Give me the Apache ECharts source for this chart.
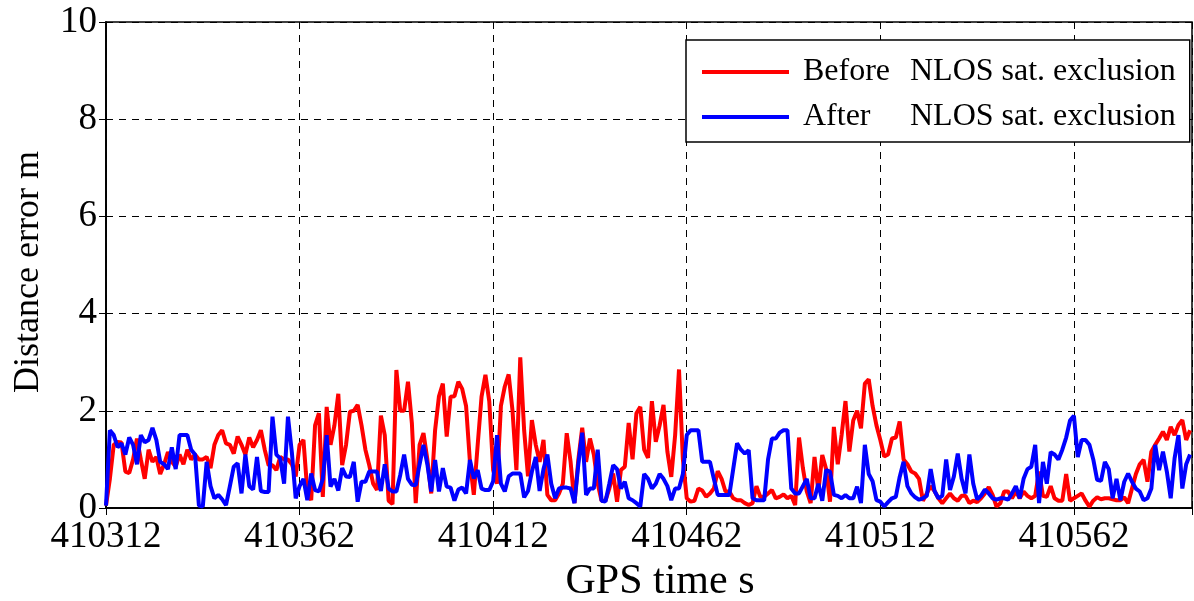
<!DOCTYPE html>
<html>
<head>
<meta charset="utf-8">
<script src="https://cdn.jsdelivr.net/npm/echarts@6/dist/echarts.min.js"></script>
<style>
  html, body { margin: 0; padding: 0; background: #fff; }
  #chart { width: 1194px; height: 601px; }
</style>
</head>
<body>
<div id="chart"></div>
<script>
// GPS time of the first epoch; epochs are one second apart
const gpsStart = 410312;
const xTickStep = 50;
const yTicks = [0, 2, 4, 6, 8, 10];
const seriesNames = ['Before', 'After'];
const legendSuffix = 'NLOS sat. exclusion';

// Distance error (m), before NLOS satellite exclusion
const beforeExclusion = [
  0.05, 0.6, 1.3, 1.36, 1.35, 0.75, 0.72, 1.0, 1.43, 1.0, 0.6, 1.2, 0.95, 1.05, 0.7, 0.9, 1.15, 0.95, 0.85, 1.1, 0.9, 1.2, 1.0, 1.1, 1.0,
  1.0, 1.05, 0.82, 1.3, 1.5, 1.6, 1.33, 1.3, 1.12, 1.47, 1.3, 1.1, 1.45, 1.25, 1.4, 1.6, 1.2, 0.88, 0.88, 0.78, 1.05, 1.0, 1.0, 0.9, 0.65, 1.3,
  1.4, 0.34, 0.16, 1.7, 1.95, 0.23, 2.08, 1.3, 1.7, 2.35, 0.88, 1.3, 1.98, 2.0, 2.12, 1.7, 1.2, 0.88, 0.5, 0.37, 1.9, 1.5, 0.15, 0.08, 2.84,
  2.0, 2.0, 2.6, 1.75, 0.1, 1.3, 1.54, 1.0, 0.3, 1.6, 2.3, 2.56, 1.47, 2.29, 2.3, 2.6, 2.45, 2.1, 0.95, 0.27, 1.3, 2.29, 2.74, 2.19, 0.78, 0.5,
  2.1, 2.5, 2.75, 2.0, 0.78, 3.1, 1.6, 0.65, 1.81, 1.3, 0.95, 1.4, 0.27, 0.16, 0.16, 0.3, 0.5, 1.54, 0.95, 0.1, 1.0, 1.65, 0.95, 1.43, 1.1, 0.5,
  0.15, 0.15, 0.4, 0.71, 0.13, 0.78, 0.85, 1.75, 1.0, 1.95, 2.08, 1.2, 1.03, 2.2, 1.36, 1.7, 2.12, 1.16, 0.64, 1.5, 2.85, 1.0, 0.2, 0.13, 0.15, 0.4,
  0.36, 0.23, 0.3, 0.4, 0.76, 0.6, 0.34, 0.34, 0.2, 0.16, 0.16, 0.1, 0.06, 0.1, 0.45, 0.23, 0.23, 0.3, 0.37, 0.2, 0.23, 0.28, 0.2, 0.25, 0.06, 1.45,
  0.82, 0.34, 0.1, 1.05, 0.34, 1.09, 0.8, 0.13, 1.67, 0.9, 1.5, 2.2, 1.16, 1.8, 2.0, 1.64, 2.56, 2.65, 2.1, 1.7, 1.4, 1.06, 1.1, 1.43, 1.45, 1.78,
  1.0, 0.9, 0.75, 0.71, 0.6, 0.15, 0.3, 0.45, 0.35, 0.2, 0.1, 0.2, 0.3, 0.2, 0.15, 0.25, 0.25, 0.1, 0.15, 0.12, 0.2, 0.3, 0.43, 0.27, 0.03,
  0.1, 0.34, 0.34, 0.2, 0.34, 0.2, 0.34, 0.25, 0.2, 0.25, 0.75, 0.25, 0.23, 0.45, 0.2, 0.15, 0.15, 0.7, 0.15, 0.2, 0.25, 0.3, 0.15, 0.03, 0.15,
  0.22, 0.18, 0.2, 0.2, 0.18, 0.16, 0.16, 0.22, 0.1, 0.4, 0.7, 0.9, 0.99, 0.54, 1.16, 1.3, 1.43, 1.57, 1.4, 1.67, 1.5, 1.71, 1.81, 1.4, 1.6
];

// Distance error (m), after NLOS satellite exclusion
const afterExclusion = [
  0.05, 1.6, 1.5, 1.25, 1.33, 1.1, 1.45, 1.3, 0.9, 1.5, 1.35, 1.4, 1.65, 1.4, 0.95, 0.9, 0.8, 1.25, 0.8, 1.5, 1.5, 1.5, 1.2, 1.1, 0.05,
  0.03, 0.95, 0.45, 0.2, 0.27, 0.18, 0.06, 0.45, 0.85, 0.92, 0.3, 1.1, 0.45, 0.38, 1.05, 0.35, 0.33, 0.33, 1.88, 1.1, 1.02, 0.5, 1.88, 1.15, 0.2, 0.45,
  0.6, 0.16, 0.71, 0.37, 0.34, 0.6, 1.5, 0.44, 0.6, 0.36, 0.82, 0.65, 0.64, 0.95, 0.13, 0.54, 0.54, 0.75, 0.75, 0.75, 0.35, 0.9, 0.4, 0.34, 0.34,
  0.68, 1.1, 0.6, 0.48, 0.47, 0.9, 1.3, 0.9, 0.34, 0.99, 0.34, 0.82, 0.44, 0.42, 0.15, 0.38, 0.42, 0.3, 0.99, 0.61, 0.78, 0.4, 0.37, 0.37, 0.55, 1.5,
  0.5, 0.34, 0.65, 0.71, 0.71, 0.71, 0.22, 0.35, 0.75, 1.05, 0.35, 0.8, 1.1, 0.5, 0.2, 0.4, 0.42, 0.42, 0.4, 0.1, 0.9, 1.55, 0.27, 0.4, 0.4, 1.2,
  0.15, 0.13, 0.5, 0.88, 0.8, 0.4, 0.54, 0.2, 0.16, 0.1, 0.03, 0.7, 0.6, 0.4, 0.5, 0.7, 0.6, 0.45, 0.16, 0.4, 0.4, 0.7, 1.5, 1.6, 1.6, 1.6,
  0.95, 0.95, 0.95, 0.6, 0.27, 0.27, 0.27, 0.27, 0.8, 1.33, 1.2, 1.12, 1.19, 0.2, 0.16, 0.16, 0.16, 1.0, 1.43, 1.43, 1.55, 1.6, 1.6, 0.4, 0.3, 0.3,
  0.45, 0.6, 0.2, 0.2, 0.5, 0.15, 0.78, 0.75, 0.27, 0.25, 0.2, 0.27, 0.2, 0.2, 0.44, 0.1, 1.3, 0.7, 0.55, 0.16, 0.13, 0.03, 0.12, 0.2, 0.23, 0.64,
  0.95, 0.45, 0.3, 0.22, 0.17, 0.2, 0.25, 0.8, 0.35, 0.2, 0.25, 1.0, 0.37, 0.65, 1.12, 0.6, 0.3, 1.1, 0.5, 0.18, 0.25, 0.38, 0.3, 0.2, 0.17,
  0.2, 0.2, 0.17, 0.3, 0.45, 0.2, 0.6, 0.8, 0.85, 1.3, 0.1, 0.95, 0.5, 1.15, 1.1, 1.0, 1.2, 1.45, 1.8, 1.9, 1.05, 1.4, 1.4, 1.3, 1.0,
  0.58, 0.56, 0.95, 0.8, 0.2, 0.6, 0.16, 0.54, 0.71, 0.54, 0.4, 0.34, 0.16, 0.2, 0.4, 1.3, 0.78, 1.16, 0.75, 0.2, 1.02, 1.5, 0.4, 0.9, 1.1
];

// elapsed seconds since gpsStart for each epoch
const elapsed = beforeExclusion.map((_, i) => i);
const xMax = 280.5;

const serif = "'Liberation Serif', 'Times New Roman', serif";
const tickFont = 37;

const beforeData = elapsed.map((s, i) => [s, beforeExclusion[i]]);
const afterData = elapsed.map((s, i) => [s, afterExclusion[i]]);

const dashed = { show: true, lineStyle: { color: '#000', width: 1, type: [7, 6] } };
const innerTick = { show: true, inside: true, length: 7, lineStyle: { color: '#000', width: 1 } };
const blackLine = { show: true, lineStyle: { color: '#000', width: 1.5 } };

const chart = echarts.init(document.getElementById('chart'), null, { renderer: 'canvas' });
chart.setOption({
  animation: false,
  backgroundColor: '#fff',
  textStyle: { fontFamily: serif, color: '#000' },
  grid: {
    left: 106, right: 2, top: 22, bottom: 93,
    show: true, borderColor: '#000', borderWidth: 1.5,
    containLabel: false, outerBoundsMode: 'none'
  },
  xAxis: [{
    type: 'value', min: 0, max: xMax, interval: xTickStep,
    axisLine: blackLine, axisTick: innerTick, splitLine: dashed,
    axisLabel: {
      fontSize: tickFont, fontFamily: serif, color: '#000', margin: 11,
      formatter: v => (v % xTickStep === 0 ? String(gpsStart + v) : '')
    },
    name: 'GPS time s', nameLocation: 'middle', nameGap: 50,
    nameTextStyle: { fontSize: 42, fontFamily: serif, color: '#000', padding: [0, 0, 0, 22] }
  }, {
    type: 'value', position: 'top', min: 0, max: xMax, interval: xTickStep,
    axisLine: blackLine, axisTick: innerTick, axisLabel: { show: false }, splitLine: { show: false }
  }],
  yAxis: [{
    type: 'value', min: yTicks[0], max: yTicks[yTicks.length - 1], interval: yTicks[1] - yTicks[0],
    axisLine: blackLine, axisTick: innerTick, splitLine: dashed,
    axisLabel: { fontSize: tickFont, fontFamily: serif, color: '#000', margin: 9 },
    name: 'Distance error m', nameLocation: 'middle', nameGap: 59, nameRotate: 90,
    nameTextStyle: { fontSize: 36, fontFamily: serif, color: '#000', padding: [0, 14, 0, 0] }
  }, {
    type: 'value', position: 'right', min: yTicks[0], max: yTicks[yTicks.length - 1], interval: yTicks[1] - yTicks[0],
    axisLine: blackLine, axisTick: innerTick, axisLabel: { show: false }, splitLine: { show: false }
  }],
  legend: {
    data: seriesNames,
    orient: 'vertical', left: 686, top: 40,
    padding: [14, 14, 7, 16], itemGap: 9,
    icon: 'rect', itemWidth: 87, itemHeight: 4,
    backgroundColor: '#fff', borderColor: '#000', borderWidth: 1.5, borderRadius: 0,
    formatter: name => `{a|${name}}{b|${legendSuffix}}`,
    textStyle: {
      fontFamily: serif, fontSize: 32, color: '#000', lineHeight: 36,
      rich: {
        a: { fontFamily: serif, fontSize: 32, color: '#000', width: 107, padding: [0, 0, 0, 9] },
        b: { fontFamily: serif, fontSize: 32, color: '#000' }
      }
    }
  },
  series: [{
    name: seriesNames[0], type: 'line', data: beforeData, showSymbol: false,
    lineStyle: { color: '#ff0000', width: 4 }, itemStyle: { color: '#ff0000' }
  }, {
    name: seriesNames[1], type: 'line', data: afterData, showSymbol: false,
    lineStyle: { color: '#0000ff', width: 4 }, itemStyle: { color: '#0000ff' }
  }]
});
</script>
</body>
</html>
